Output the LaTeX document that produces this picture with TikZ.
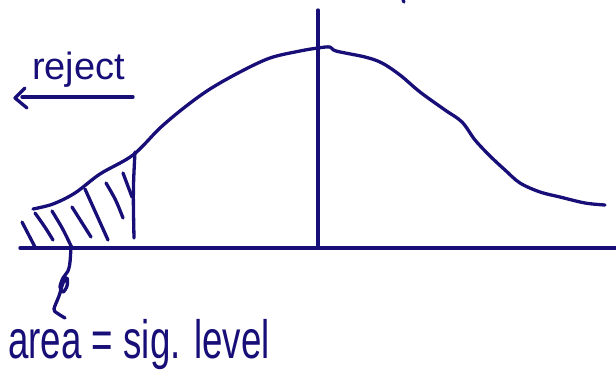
\documentclass[tikz,border=0pt]{standalone}
\usepackage{fontspec}
\setmainfont{Liberation Sans}
\definecolor{ink}{RGB}{24,14,120}
\tikzset{pen/.style={draw=ink,line width=3.3pt,line cap=round,line join=round}}
\begin{document}
\begin{tikzpicture}[x=1pt,y=-1pt]
\useasboundingbox (0,0) rectangle (616,378);
% axis
\coordinate (axL) at (20,248);
\coordinate (axR) at (616,248);
\draw[pen] (axL) -- (axR);
% vertical mean line
\coordinate (vT) at (318,10);
\coordinate (vB) at (318,248);
\draw[pen] (vT) -- (vB);
% tiny mark at top
\draw[pen] (403,0) -- (404,2);
% curve
\draw[pen] plot[smooth,tension=0.55] coordinates {(33,209) (53,204) (75,193) (100,174) (133,155) (160,128) (185,107) (210,89) (240,72) (270,58) (300,51) (318,48) (330,47) (336,51) (365,57) (382,63) (400,75) (420,92) (445,110) (462,122) (475,140) (490,156) (505,170) (520,183) (540,192) (560,197) (585,203) (605,205)};
% shading boundary
\draw[pen] (135,152) .. controls (133,190) .. (134,238);
% hatch strokes
\foreach \xa/\ya/\xm/\ym/\xb/\yb in {22/222/29/234/35/247, 35/213/45/227/53/240, 52/211/63/229/72/248, 72/207/82/222/91/237, 85/189/97/214/108/240, 106/183/116/200/123/218, 123/173/128/185/132/197}
  \draw[pen] (\xa,\ya) .. controls (\xm,\ym) .. (\xb,\yb);
% squiggle arrow to label
\draw[pen] plot[smooth,tension=0.55] coordinates {(71,246) (70,262) (68,271) (63,278) (60,287) (63,292) (67,286) (67,278) (63,283) (59,296) (54,309) (57,313) (65,318)};
% reject arrow
\coordinate (rA) at (133,97);
\coordinate (rB) at (22,97);
\draw[pen] (rA) -- (rB);
\draw[pen] (25,88) -- (15,98) -- (27,108);
\node[text=ink,anchor=base west,inner sep=0pt,font=\fontsize{38}{40}\selectfont] (rej) at (32,79) {reject};
\node[text=ink,anchor=base west,inner sep=0pt,font=\fontsize{54}{56}\selectfont] (area) at (8,358) {\scalebox{0.68}[1]{area = sig. level}};
\end{tikzpicture}
\end{document}
